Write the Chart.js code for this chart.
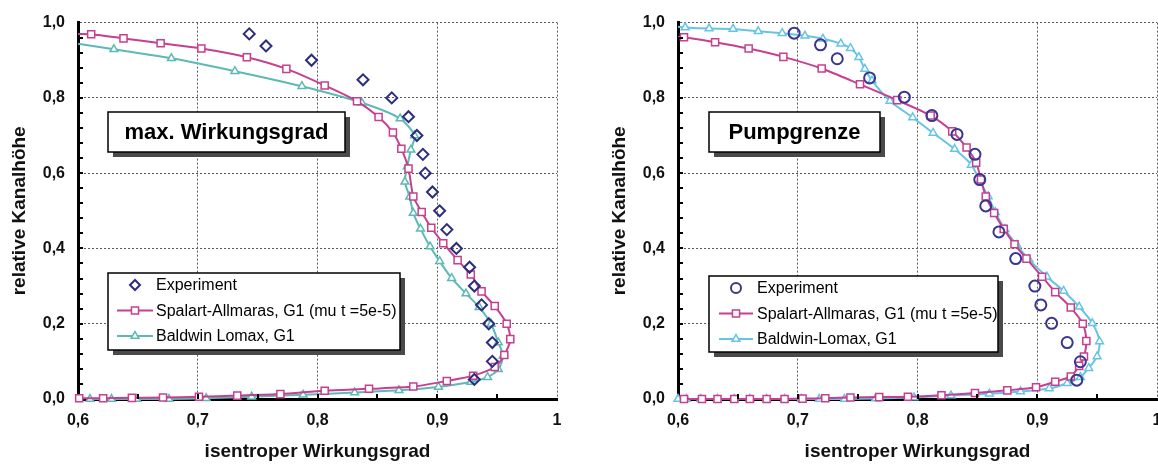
<!DOCTYPE html>
<html><head><meta charset="utf-8">
<script src="https://cdn.jsdelivr.net/npm/chart.js@4.4.1/dist/chart.umd.min.js"></script>
<style>
html,body{margin:0;padding:0;background:#fff;overflow:hidden;width:1158px;height:473px;}
.wrap{position:absolute;top:0;width:600px;height:473px;}
</style></head><body>
<div class="wrap" style="left:0"><canvas id="c1" width="600" height="473"></canvas></div>
<div class="wrap" style="left:600px"><canvas id="c2" width="600" height="473"></canvas></div>
<script>
// ---------- axes ----------
const xTickValues = [0.6, 0.7, 0.8, 0.9, 1.0];
const xTickLabels = ['0,6', '0,7', '0,8', '0,9', '1'];
const yTickValues = [0, 0.2, 0.4, 0.6, 0.8, 1.0];
const yTickLabels = ['0,0', '0,2', '0,4', '0,6', '0,8', '1,0'];
const xMinorTicks = [0.65, 0.7, 0.75, 0.8, 0.85, 0.9, 0.95];
const yMinorTicks = [0.04, 0.08, 0.12, 0.16, 0.2, 0.24, 0.28, 0.32, 0.36, 0.4, 0.44, 0.48, 0.52, 0.56, 0.6, 0.64, 0.68, 0.72, 0.76, 0.8, 0.84, 0.88, 0.92, 0.96];
const xTitle = 'isentroper Wirkungsgrad';
const yTitle = 'relative Kanalhöhe';
const panelTitles = ['max. Wirkungsgrad', 'Pumpgrenze'];
const leftLabels = ['Experiment', 'Spalart-Allmaras, G1 (mu t =5e-5)', 'Baldwin Lomax, G1'];
const rightLabels = ['Experiment', 'Spalart-Allmaras, G1 (mu t =5e-5)', 'Baldwin-Lomax, G1'];

// ---------- left panel: max. Wirkungsgrad ----------
const expMax = [[0.743,0.970],[0.757,0.938],[0.795,0.900],[0.838,0.848],[0.862,0.800],[0.876,0.750],[0.883,0.700],[0.888,0.650],[0.890,0.600],[0.896,0.550],[0.902,0.500],[0.908,0.450],[0.916,0.400],[0.927,0.350],[0.931,0.300],[0.937,0.250],[0.943,0.200],[0.946,0.150],[0.946,0.100],[0.931,0.052]];
const saMax = [[0.600,0.970],[0.611,0.969],[0.638,0.958],[0.669,0.945],[0.703,0.931],[0.741,0.908],[0.774,0.877],[0.806,0.833],[0.833,0.791],[0.851,0.749],[0.863,0.708],[0.870,0.665],[0.876,0.612],[0.880,0.538],[0.887,0.497],[0.895,0.455],[0.905,0.414],[0.917,0.369],[0.928,0.331],[0.937,0.286],[0.948,0.247],[0.958,0.200],[0.961,0.159],[0.956,0.117],[0.948,0.085],[0.930,0.062],[0.908,0.048],[0.880,0.033],[0.843,0.027],[0.806,0.022],[0.769,0.013],[0.733,0.009],[0.701,0.006],[0.671,0.004],[0.645,0.003],[0.621,0.002],[0.601,0.002]];
const blMax = [[0.600,0.944],[0.630,0.929],[0.678,0.905],[0.731,0.871],[0.787,0.831],[0.837,0.787],[0.869,0.745],[0.881,0.700],[0.878,0.662],[0.875,0.618],[0.873,0.577],[0.877,0.537],[0.880,0.494],[0.886,0.452],[0.894,0.405],[0.902,0.366],[0.912,0.321],[0.924,0.280],[0.935,0.244],[0.945,0.199],[0.951,0.150],[0.955,0.114],[0.951,0.079],[0.942,0.058],[0.928,0.045],[0.901,0.032],[0.868,0.023],[0.831,0.017],[0.788,0.011],[0.745,0.006],[0.707,0.002],[0.676,0.000],[0.649,0.000],[0.628,0.000],[0.610,0.000]];

// ---------- right panel: Pumpgrenze ----------
const expPump = [[0.697,0.972],[0.719,0.941],[0.733,0.904],[0.760,0.853],[0.789,0.802],[0.812,0.753],[0.833,0.703],[0.848,0.650],[0.852,0.583],[0.857,0.513],[0.868,0.444],[0.882,0.373],[0.898,0.300],[0.903,0.250],[0.912,0.201],[0.925,0.150],[0.936,0.099],[0.933,0.050]];
const saPump = [[0.600,0.962],[0.605,0.961],[0.631,0.948],[0.659,0.931],[0.688,0.909],[0.720,0.878],[0.752,0.836],[0.783,0.794],[0.811,0.753],[0.829,0.711],[0.841,0.668],[0.849,0.628],[0.853,0.583],[0.857,0.538],[0.864,0.494],[0.872,0.452],[0.881,0.411],[0.891,0.373],[0.904,0.325],[0.915,0.284],[0.928,0.243],[0.938,0.200],[0.941,0.154],[0.939,0.113],[0.935,0.088],[0.928,0.060],[0.915,0.046],[0.899,0.031],[0.875,0.023],[0.848,0.016],[0.820,0.010],[0.792,0.006],[0.768,0.005],[0.744,0.004],[0.723,0.002],[0.704,0.001],[0.689,0.000],[0.674,0.000],[0.660,0.000],[0.647,0.000],[0.633,0.000],[0.620,0.000],[0.605,0.000]];
const blPump = [[0.600,0.989],[0.606,0.987],[0.626,0.984],[0.646,0.983],[0.667,0.977],[0.687,0.972],[0.706,0.965],[0.721,0.957],[0.736,0.944],[0.744,0.932],[0.751,0.908],[0.756,0.877],[0.762,0.846],[0.777,0.792],[0.796,0.748],[0.813,0.707],[0.831,0.664],[0.845,0.622],[0.852,0.580],[0.859,0.538],[0.865,0.496],[0.873,0.451],[0.883,0.409],[0.893,0.371],[0.908,0.325],[0.922,0.287],[0.935,0.245],[0.946,0.201],[0.952,0.153],[0.950,0.113],[0.943,0.082],[0.936,0.058],[0.925,0.042],[0.910,0.028],[0.886,0.020],[0.860,0.014],[0.828,0.009],[0.797,0.004],[0.765,0.001],[0.739,0.000],[0.718,0.000],[0.703,0.000],[0.689,0.000],[0.674,0.000],[0.660,0.000],[0.647,0.000],[0.633,0.000],[0.619,0.000],[0.607,0.000],[0.600,0.000]];

// ---------- rendering ----------
const FONT = '"Liberation Sans", Arial, Helvetica, sans-serif';
Chart.defaults.font.family = FONT;
Chart.defaults.color = '#111';

const toPts = arr => arr.map(p => ({x: p[0], y: p[1]}));

function drawMarker(ctx, style, r, x, y) {
  if (Chart.helpers && Chart.helpers.drawPoint) {
    Chart.helpers.drawPoint(ctx, {pointStyle: style, radius: r, rotation: 0, borderWidth: ctx.lineWidth}, x, y);
    return;
  }
  ctx.beginPath();
  if (style === 'circle') ctx.arc(x, y, r, 0, Math.PI * 2);
  else if (style === 'rect') { const s = r * Math.SQRT1_2; ctx.rect(x - s, y - s, 2 * s, 2 * s); }
  else if (style === 'rectRot') { ctx.moveTo(x, y - r); ctx.lineTo(x + r, y); ctx.lineTo(x, y + r); ctx.lineTo(x - r, y); ctx.closePath(); }
  else if (style === 'triangle') { ctx.moveTo(x, y - r); ctx.lineTo(x + r * 0.866, y + r / 2); ctx.lineTo(x - r * 0.866, y + r / 2); ctx.closePath(); }
  ctx.fill(); ctx.stroke();
}

const decor = {
  id: 'decor',
  afterDraw(chart, args, o) {
    const ctx = chart.ctx, xs = chart.scales.x, ys = chart.scales.y, a = chart.chartArea;
    ctx.save();
    // minor ticks (inside)
    ctx.strokeStyle = '#000'; ctx.lineWidth = 2;
    ctx.beginPath();
    yMinorTicks.forEach(v => { const p = Math.round(ys.getPixelForValue(v)); ctx.moveTo(a.left, p); ctx.lineTo(a.left + 5, p); });
    xMinorTicks.forEach(v => { const p = Math.round(xs.getPixelForValue(v)); ctx.moveTo(p, a.bottom); ctx.lineTo(p, a.bottom - 5); });
    ctx.stroke();

    const box = b => {
      ctx.fillStyle = '#4a4a4a'; ctx.fillRect(b.x + 5, b.y + 5, b.w, b.h);
      ctx.fillStyle = '#fff'; ctx.fillRect(b.x, b.y, b.w, b.h);
      ctx.strokeStyle = '#000'; ctx.lineWidth = 1.5; ctx.strokeRect(b.x, b.y, b.w, b.h);
    };
    // title box
    const t = o.title;
    box(t);
    ctx.fillStyle = '#000'; ctx.font = 'bold 22px ' + FONT;
    ctx.textAlign = 'center'; ctx.textBaseline = 'middle';
    ctx.fillText(t.text, t.x + t.w / 2, t.y + t.h / 2 + 1);
    // legend box
    const L = o.legend;
    box(L);
    ctx.font = '16px ' + FONT; ctx.textAlign = 'left'; ctx.textBaseline = 'middle';
    chart.data.datasets.forEach((ds, i) => {
      const ry = L.rows[i];
      if (ds.showLine) {
        ctx.strokeStyle = ds.borderColor; ctx.lineWidth = 2;
        ctx.beginPath(); ctx.moveTo(L.lx1, ry); ctx.lineTo(L.lx2, ry); ctx.stroke();
      }
      ctx.strokeStyle = ds.pointBorderColor; ctx.lineWidth = ds.pointBorderWidth;
      ctx.fillStyle = ds.pointBackgroundColor;
      drawMarker(ctx, ds.pointStyle, ds.legendRadius, L.mx, ry);
      ctx.fillStyle = '#000';
      ctx.fillText(ds.label, L.tx, ry + 1);
    });
    ctx.restore();
  }
};

function makeChart(id, exp, expStyle, expColor, sa, bl, blColor, labels, titleBox, legendBox) {
  return new Chart(document.getElementById(id), {
    type: 'scatter',
    data: {
      datasets: [
        { label: labels[0], data: toPts(exp), showLine: false, pointStyle: expStyle,
          pointRadius: 5.5, pointHoverRadius: 5.5, legendRadius: 5,
          pointBorderColor: expColor, pointBackgroundColor: 'rgba(255,255,255,0)', pointBorderWidth: 2,
          borderColor: expColor, clip: false, order: 0 },
        { label: labels[1], data: toPts(sa), showLine: true, tension: 0.25,
          borderColor: '#c63f91', borderWidth: 2, pointStyle: 'rect',
          pointRadius: c => (c.dataIndex === 0 ? 0 : 5), legendRadius: 5,
          pointBorderColor: '#c63f91', pointBackgroundColor: '#fff', pointBorderWidth: 1.5,
          clip: false, order: 1 },
        { label: labels[2], data: toPts(bl), showLine: true, tension: 0.25,
          borderColor: blColor, borderWidth: 2, pointStyle: 'triangle',
          pointRadius: c => (c.dataIndex === 0 ? 0 : 4.5), legendRadius: 4.5,
          pointBorderColor: blColor, pointBackgroundColor: '#fff', pointBorderWidth: 1.5,
          clip: false, order: 2 }
      ]
    },
    options: {
      responsive: false, animation: false, devicePixelRatio: 1,
      layout: { padding: { left: 0, right: 43, top: 18, bottom: 0 } },
      plugins: {
        legend: { display: false }, tooltip: { enabled: false },
        decor: { title: titleBox, legend: legendBox }
      },
      scales: {
        x: {
          type: 'linear', min: 0.6, max: 1.0,
          afterBuildTicks: s => { s.ticks = xTickValues.map(v => ({ value: v })); },
          afterFit: s => { s.height = 74; },
          ticks: { callback: (v, i) => xTickLabels[i], padding: 12, font: { size: 16, weight: 'bold' }, color: '#111', maxRotation: 0 },
          grid: { color: '#5a5a5a', lineWidth: 1, drawTicks: false },
          border: { color: '#000', width: 3, dash: [2, 2] },
          title: { display: true, text: xTitle, font: { size: 19, weight: 'bold' }, color: '#111', padding: { top: 0, bottom: 10 } }
        },
        y: {
          type: 'linear', min: 0, max: 1.0,
          afterBuildTicks: s => { s.ticks = yTickValues.map(v => ({ value: v })); },
          afterFit: s => { s.width = 78; },
          ticks: { callback: (v, i) => yTickLabels[i], padding: 13, font: { size: 16, weight: 'bold' }, color: '#111' },
          grid: { color: '#5a5a5a', lineWidth: 1, drawTicks: false },
          border: { color: '#000', width: 3, dash: [2, 2] },
          title: { display: true, text: yTitle, font: { size: 19, weight: 'bold' }, color: '#111', padding: { top: 8, bottom: 0 } }
        }
      }
    },
    plugins: [decor]
  });
}

makeChart('c1', expMax, 'rectRot', '#2c2d7c', saMax, blMax, '#5db9b6', leftLabels,
  { x: 108, y: 112, w: 237, h: 40, text: panelTitles[0] },
  { x: 108, y: 273, w: 292, h: 77, rows: [285, 310.5, 336], lx1: 117, lx2: 153, mx: 135, tx: 156 });

makeChart('c2', expPump, 'circle', '#3a358e', saPump, blPump, '#66c4e4', rightLabels,
  { x: 109, y: 112, w: 171, h: 40, text: panelTitles[1] },
  { x: 109, y: 276, w: 289, h: 76, rows: [288, 313.5, 339], lx1: 119, lx2: 153, mx: 136, tx: 157 });
</script>
</body></html>
